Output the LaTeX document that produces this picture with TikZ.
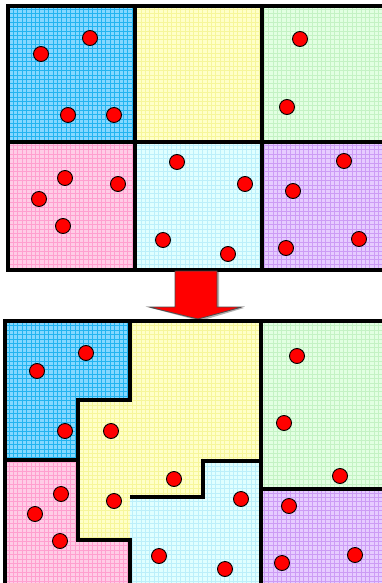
\documentclass[tikz,border=0pt]{standalone}
\usetikzlibrary{arrows.meta, calc}
\definecolor{fblue}{HTML}{84D8FF}
\definecolor{gblue}{HTML}{22B4F0}
\definecolor{fyellow}{HTML}{FFFFC8}
\definecolor{gyellow}{HTML}{F6F69A}
\definecolor{fgreen}{HTML}{E2FFE2}
\definecolor{ggreen}{HTML}{C4F2C4}
\definecolor{fpink}{HTML}{FFCCE6}
\definecolor{gpink}{HTML}{FF9FCF}
\definecolor{fcyan}{HTML}{E0FFFF}
\definecolor{gcyan}{HTML}{BCEFFA}
\definecolor{fpurple}{HTML}{E6CCFF}
\definecolor{gpurple}{HTML}{CC9CF5}
\tikzset{
  every picture/.style={x=1pt, y=-1pt},
  site/.style={circle, draw=black, fill=red, line width=0.9pt, minimum size=15pt, inner sep=0pt},
  border/.style={draw=black, line width=3.2pt, line join=miter},
  bigarrow/.style={fill=red, draw=black!70, line width=0.8pt},
}
\newcommand{\gridregion}[3]{%
  \begin{scope}
    \clip #3;
    \fill[#1] #3;
    \draw[#2, line width=0.4pt, step=4.4pt] (0,0) grid (392,592);
  \end{scope}}

\begin{document}
\begin{tikzpicture}
  \clip (0,0) rectangle (382,583);
  \fill[white] (0,0) rectangle (382,583);

  % before: six equal cells
  \gridregion{fblue}{gblue}{(8,6) rectangle (135,142)}
  \gridregion{fyellow}{gyellow}{(135,6) rectangle (262,142)}
  \gridregion{fgreen}{ggreen}{(262,6) rectangle (392,142)}
  \gridregion{fpink}{gpink}{(8,142) rectangle (135,270)}
  \gridregion{fcyan}{gcyan}{(135,142) rectangle (262,270)}
  \gridregion{fpurple}{gpurple}{(262,142) rectangle (392,270)}
  \draw[border] (8,6) rectangle (392,270);
  \draw[border] (135,6) -- (135,270) (262,6) -- (262,270) (8,142) -- (392,142);

  \foreach \x/\y [count=\k] in {90/38, 41/54, 68/115, 114/115, 300/39, 287/107,
      65/178, 118/184, 39/199, 63/226, 177/162, 245/184, 163/240, 228/254,
      344/161, 293/191, 359/239, 286/248}
    \node[site] (a\k) at (\x,\y) {};

  % arrow
  \fill[black!30] (177,272) -- (219,272) -- (219,308) -- (244,308) -- (200,321) -- (151,308) -- (177,308) -- cycle;
  \draw[bigarrow] (175,271) -- (217,271) -- (217,307) -- (242,307) -- (198,319) -- (149,307) -- (175,307) -- cycle;

  % after: reshaped regions
  \gridregion{fblue}{gblue}{(5,321) -- (130,321) -- (130,400) -- (78,400) -- (78,460) -- (5,460) -- cycle}
  \gridregion{fyellow}{gyellow}{(130,321) -- (261,321) -- (261,461) -- (203,461) -- (203,497) -- (130,497) -- (130,540) -- (78,540) -- (78,400) -- (130,400) -- cycle}
  \gridregion{fpink}{gpink}{(5,460) -- (78,460) -- (78,540) -- (130,540) -- (130,592) -- (5,592) -- cycle}
  \gridregion{fcyan}{gcyan}{(130,497) -- (203,497) -- (203,461) -- (261,461) -- (261,592) -- (130,592) -- cycle}
  \gridregion{fgreen}{ggreen}{(261,321) rectangle (392,489)}
  \gridregion{fpurple}{gpurple}{(261,489) rectangle (392,592)}
  \draw[border] (5,321) rectangle (392,592);
  \draw[border] (130,321) -- (130,400) -- (78,400) -- (78,540) -- (130,540) -- (130,592);
  \draw[border] (5,460) -- (78,460);
  \draw[border] (130,497) -- (203,497) -- (203,461) -- (261,461);
  \draw[border] (261,321) -- (261,592) (261,489) -- (392,489);

  \foreach \x/\y [count=\k] in {86/353, 37/371, 65/431, 111/431, 114/501, 174/479,
      61/494, 35/514, 60/541, 159/556, 241/499, 225/569,
      297/356, 284/423, 340/476, 289/506, 282/563, 355/555}
    \node[site] (b\k) at (\x,\y) {};
\end{tikzpicture}
\end{document}
